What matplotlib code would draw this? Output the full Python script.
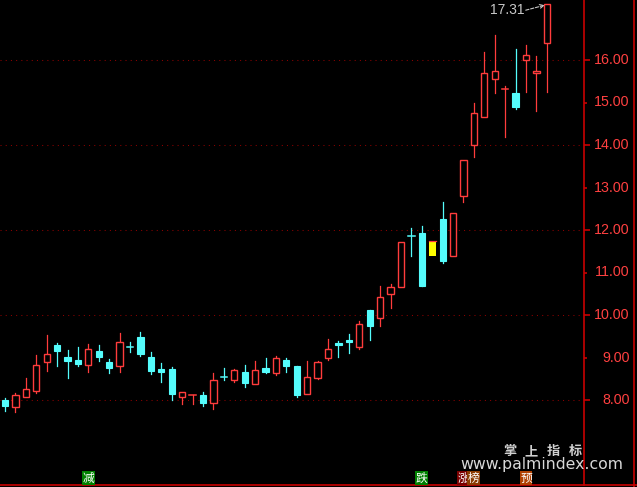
import matplotlib
matplotlib.use("Agg")
import matplotlib.pyplot as plt
from matplotlib.patches import Rectangle

# ---- data ----
opens = [8.00, 7.84, 8.06, 8.22, 8.90, 9.29, 9.01, 8.94, 8.82, 9.15,
         8.89, 8.79, 9.25, 9.48, 9.01, 8.73, 8.73, 8.08, 8.11, 8.11,
         7.92, 8.53, 8.48, 8.66, 8.38, 8.75, 8.64, 8.94, 8.80, 8.13,
         8.51, 8.98, 9.33, 9.41, 9.24, 10.12, 9.94, 10.49, 10.67, 11.87,
         11.94, 11.39, 12.26, 11.40, 12.79, 13.99, 14.65, 15.55, 15.32, 15.22,
         15.99, 15.69, 16.39]
highs = [8.05, 8.16, 8.51, 9.06, 9.53, 9.33, 9.18, 9.25, 9.32, 9.29,
         8.96, 9.58, 9.36, 9.60, 9.13, 8.87, 8.78, 8.20, 8.11, 8.18,
         8.63, 8.75, 8.72, 8.82, 8.92, 8.99, 9.04, 8.99, 8.80, 8.92,
         8.91, 9.43, 9.40, 9.55, 9.87, 10.12, 10.68, 10.73, 11.71, 12.05,
         12.09, 11.73, 12.66, 12.39, 13.64, 14.98, 16.18, 16.59, 15.40, 16.26,
         16.35, 16.09, 17.31]
lows = [7.75, 7.72, 8.06, 8.16, 8.69, 8.81, 8.52, 8.81, 8.67, 8.92,
        8.64, 8.67, 9.14, 9.04, 8.62, 8.42, 8.00, 7.91, 7.91, 7.87,
        7.79, 8.47, 8.42, 8.31, 8.38, 8.64, 8.60, 8.66, 8.08, 8.13,
        8.49, 8.93, 9.01, 9.11, 9.20, 9.41, 9.74, 10.16, 10.67, 11.39,
        10.68, 11.39, 11.23, 11.40, 12.67, 13.71, 14.65, 15.23, 14.18, 14.85,
        15.24, 14.81, 15.24]
closes = [7.87, 8.11, 8.25, 8.82, 9.08, 9.16, 8.92, 8.85, 9.19, 9.02,
          8.76, 9.36, 9.24, 9.08, 8.69, 8.66, 8.15, 8.20, 8.11, 7.93,
          8.46, 8.52, 8.70, 8.41, 8.70, 8.66, 8.98, 8.80, 8.12, 8.53,
          8.89, 9.19, 9.29, 9.37, 9.80, 9.75, 10.42, 10.65, 11.71, 11.86,
          10.68, 11.73, 11.28, 12.39, 13.64, 14.75, 15.69, 15.73, 15.32, 14.90,
          16.11, 15.74, 17.31]
highlight_index = 41          # yellow candle
price_ticks = [8, 9, 10, 11, 12, 13, 14, 15, 16]
grid_levels = [8, 10, 12, 14, 16]
max_label = "17.31"
bottom_marks = [("减", 8, "#008000"), ("跌", 40, "#008000"),
                ("涨", 44, "#7a0000"), ("榜", 45, "#8a3a00"), ("预", 50, "#b04000")]
watermark_chars = ["掌", "上", "指", "标"]
watermark_url = "www.palmindex.com"

RED = "#ff3c3c"
CYAN = "#54fcfc"
AXRED = "#c80000"

W, H = 637, 487
fig = plt.figure(figsize=(W / 100, H / 100), dpi=100, facecolor="black")
ax = fig.add_axes([0, 2 / H, 584 / W, 485 / H])
ax.set_facecolor("black")
step = 10.42
ax.set_xlim(-5 / step, 579 / step)
ax.set_ylim(6.0, 8 + 400 / 42.5)

for s in ["top", "left", "bottom"]:
    ax.spines[s].set_visible(False)
ax.spines["right"].set_color(AXRED)
ax.spines["right"].set_linewidth(1.2)
ax.yaxis.tick_right()
ax.set_xticks([])
ax.set_yticks([t for t in price_ticks if t % 2 == 0])
ax.set_yticks([t for t in price_ticks if t % 2 == 1], minor=True)
ax.tick_params(axis="y", which="major", length=4.5, width=1.2, color=AXRED, labelright=False)
ax.tick_params(axis="y", which="minor", length=2.3, width=1.2, color=AXRED, labelright=False)

for g in grid_levels:
    ax.axhline(g, color="#8c0000", lw=0.75, linestyle=(0, (1, 4)), zorder=0)

bw = 0.6
for i, (o, h, l, c) in enumerate(zip(opens, highs, lows, closes)):
    if i == highlight_index:
        ax.add_patch(Rectangle((i - bw / 2 - 0.04, o), bw + 0.08, c - o,
                               facecolor="#ffff00", edgecolor="none", zorder=3))
        ax.plot([i - bw / 2 - 0.04, i + bw / 2 + 0.04], [c, c], color=RED, lw=0.9, zorder=4)
        continue
    up = c >= o
    top, bot = max(o, c), min(o, c)
    if up:
        if h > top:
            ax.plot([i, i], [top, h], color=RED, lw=0.9, zorder=2)
        if l < bot:
            ax.plot([i, i], [l, bot], color=RED, lw=0.9, zorder=2)
        if top - bot < 0.04:
            ax.plot([i - bw / 2, i + bw / 2], [top, top], color=RED, lw=1.1, zorder=3)
        else:
            ax.add_patch(Rectangle((i - bw / 2, bot), bw, top - bot,
                                   facecolor="black", edgecolor=RED, lw=1.0, zorder=3))
    else:
        ax.plot([i, i], [l, h], color=CYAN, lw=0.9, zorder=2)
        if top - bot < 0.04:
            ax.plot([i - bw / 2, i + bw / 2], [top, top], color=CYAN, lw=1.1, zorder=3)
        else:
            ax.add_patch(Rectangle((i - bw / 2, bot), bw, top - bot,
                                   facecolor=CYAN, edgecolor=CYAN, lw=0.8, zorder=3))

# price labels
def ypix(p):
    return 400 - (p - 8) * 42.5

for t in price_ticks:
    fig.text(629.5 / W, 1 - ypix(t) / H, f"{t:.2f}", color="#ff4040", ha="right", va="center",
             fontsize=10.3, family="Liberation Sans")

# right border line and bottom line
fig.add_artist(plt.Line2D([634 / W, 634 / W], [0, 1], color=AXRED, lw=1.2))
fig.add_artist(plt.Line2D([0, 1], [2 / H, 2 / H], color=AXRED, lw=1.2))

# max annotation
imax = highs.index(max(highs))
ax.annotate("", xy=(imax - 0.2, highs[imax] - 0.02), xytext=(-19, -5), textcoords="offset pixels",
            arrowprops=dict(arrowstyle="->", color="#c8c8c8", lw=0.8, linestyle=(0, (3, 1.5)),
                            shrinkA=0, shrinkB=0, mutation_scale=7))
ax.annotate(max_label, xy=(imax - 0.2, highs[imax] - 0.02), xytext=(-38, -5), textcoords="offset pixels",
            color="#c8c8c8", fontsize=10, family="Liberation Sans", ha="center", va="center")

# watermark
for ch, xc in zip(watermark_chars, [510, 531, 553, 575]):
    fig.text(xc / W, 1 - 451 / H, ch, color="#d0d0d0", ha="center", va="center",
             fontsize=9.5, fontweight="bold", family=["Noto Sans CJK SC", "DejaVu Sans"])
fig.text(542 / W, 1 - 464.5 / H, watermark_url, color="#d8d8d8", ha="center", va="center",
         fontsize=11.3, family="DejaVu Sans")

# bottom markers
for txt, idx, col in bottom_marks:
    xp = 5 + step * idx
    fig.text(xp / W, 1 - 478 / H, txt, color="white", ha="center", va="center", fontsize=8.5,
             family=["Noto Sans CJK SC", "DejaVu Sans"],
             bbox=dict(boxstyle="square,pad=0.05", facecolor=col, edgecolor="none"))

fig.savefig("out.png", dpi=100, facecolor="black")
